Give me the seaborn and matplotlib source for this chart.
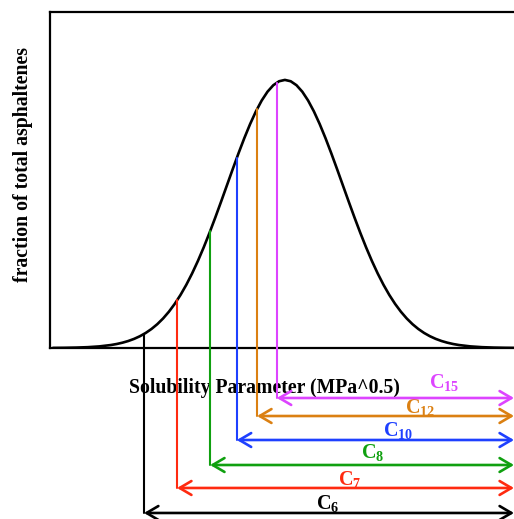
import matplotlib
matplotlib.use("Agg")
import matplotlib.pyplot as plt
import seaborn as sns
import pandas as pd

# ---- data ----
sol_param = [16.0, 16.2, 16.4, 16.6, 16.8, 17.0, 17.1, 17.2, 17.3, 17.4, 17.5, 17.6, 17.7,
             17.8, 17.9, 18.0, 18.1, 18.2, 18.3, 18.4, 18.5, 18.6, 18.7, 18.8, 18.9,
             19.0, 19.1, 19.2, 19.3, 19.4, 19.5, 19.6, 19.7, 19.8, 19.9, 20.0,
             20.1, 20.2, 20.3, 20.4, 20.5, 20.6, 20.7, 20.8, 20.9, 21.0, 21.1,
             21.2, 21.3, 21.4, 21.5, 21.6, 21.7, 21.8, 21.9, 22.0, 22.1, 22.2,
             22.3, 22.4, 22.5, 22.6, 22.7, 22.8, 22.9, 23.0, 23.2, 23.4, 23.6, 23.8, 24.0]
fraction = [0.00013, 0.00029, 0.00061, 0.00123, 0.00238, 0.00443, 0.00595, 0.00792, 0.01042,
            0.01358, 0.01753, 0.02239, 0.02833, 0.03547, 0.04398, 0.05399, 0.06562, 0.07895,
            0.09405, 0.11092, 0.12952, 0.14973, 0.17137, 0.19419, 0.21785, 0.24197, 0.26609,
            0.28969, 0.31225, 0.33322, 0.35207, 0.36827, 0.38139, 0.39104, 0.39695, 0.39894,
            0.39695, 0.39104, 0.38139, 0.36827, 0.35207, 0.33322, 0.31225, 0.28969, 0.26609,
            0.24197, 0.21785, 0.19419, 0.17137, 0.14973, 0.12952, 0.11092, 0.09405, 0.07895,
            0.06562, 0.05399, 0.04398, 0.03547, 0.02833, 0.02239, 0.01753, 0.01358, 0.01042,
            0.00792, 0.00595, 0.00443, 0.00238, 0.00123, 0.00061, 0.00029, 0.00013]

solvents = ["C$_{6}$", "C$_{7}$", "C$_{8}$", "C$_{10}$", "C$_{12}$", "C$_{15}$"]
cut_param = [17.57, 18.14, 18.71, 19.17, 19.52, 19.86]
cut_fraction = [0.0208, 0.0707, 0.1736, 0.2828, 0.3556, 0.395]
colors = ["#000000", "#FF2A10", "#10A010", "#1E40FF", "#DB8012", "#DD44FF"]

# ---- layout (not data) ----
arrow_y = [-0.2455, -0.2083, -0.1741, -0.1369, -0.1012, -0.0744]
label_x = [20.74, 21.12, 21.52, 21.95, 22.34, 22.74]
label_y = [-0.231, -0.195, -0.156, -0.1235, -0.089, -0.052]

sns.set_style("white")
plt.rcParams["font.family"] = ["Liberation Serif", "DejaVu Serif"]
plt.rcParams["mathtext.fontset"] = "custom"
plt.rcParams["mathtext.rm"] = "Liberation Serif:bold"
plt.rcParams["mathtext.it"] = "Liberation Serif:bold"
plt.rcParams["mathtext.bf"] = "Liberation Serif:bold"

W, H = 514, 519
fig = plt.figure(figsize=(W / 100, H / 100), dpi=100)
ax = fig.add_axes([50 / W, (H - 348) / H, 464 / W, 336 / H])

df = pd.DataFrame({"x": sol_param, "y": fraction})
sns.lineplot(data=df, x="x", y="y", ax=ax, color="black", linewidth=1.9)

xmin, xmax = 15.95, 23.95
ax.set_xlim(xmin, xmax)
ax.set_ylim(0, 0.5)

for xc, yc, ya, col, lab, lx, ly in zip(cut_param, cut_fraction, arrow_y, colors,
                                        solvents, label_x, label_y):
    ax.plot([xc, xc], [yc, ya], color=col, lw=1.5, clip_on=False, zorder=3)
    ax.annotate("", xy=(xmax, ya), xytext=(xc, ya),
                arrowprops=dict(arrowstyle="<->,head_length=0.85,head_width=0.5",
                                color=col, lw=1.9, shrinkA=0, shrinkB=0),
                annotation_clip=False)
    ax.text(lx, ly, lab, color=col, fontsize=14.5, fontweight="bold",
            ha="center", va="center", clip_on=False)

ax.set_xticks([])
ax.set_yticks([])
for s in ["left", "bottom", "top"]:
    ax.spines[s].set_linewidth(1.6)
    ax.spines[s].set_color("black")
ax.spines["right"].set_visible(False)

ax.set_xlabel("Solubility Parameter (MPa^0.5)", fontsize=14.2, fontweight="bold",
              color="black")
ax.xaxis.set_label_coords((264 - 50) / 464, -0.088)
ax.set_ylabel("fraction of total asphaltenes", fontsize=14.2, fontweight="bold",
              color="black")
ax.yaxis.set_label_coords(-(50 - 33) / 464, (348 - 165) / 336)
ax.yaxis.label.set_va("bottom")

fig.savefig("out.png", dpi=100)
